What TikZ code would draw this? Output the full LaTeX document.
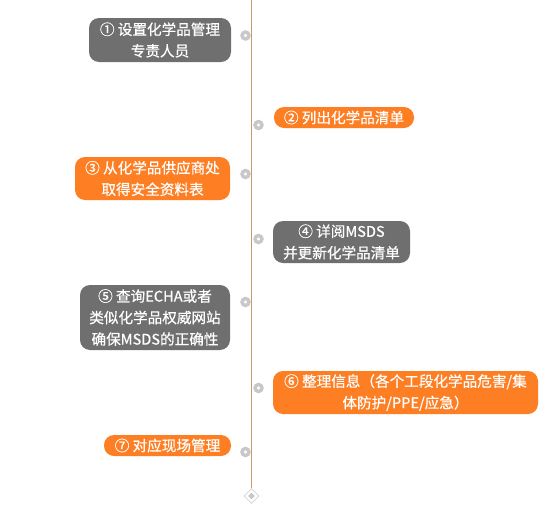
\documentclass[tikz,border=0pt]{standalone}
\usepackage{fontspec}
\usepackage{tikz}
\usetikzlibrary{positioning,shapes.geometric}
\newfontfamily\cjk[FakeBold=0.6]{Noto Sans CJK SC}
\definecolor{FlowGray}{HTML}{6F6F6F}
\definecolor{FlowOrange}{HTML}{FD7E23}
\definecolor{FlowRing}{HTML}{C8C8C8}
\definecolor{FlowLine}{HTML}{CC9A66}

\begin{document}
\begin{tikzpicture}[x=1pt, y=-1pt,
  font=\cjk\fontsize{14.6}{21.5}\selectfont,
  card/.style={rounded corners=10pt, text=white, inner sep=0pt, align=center},
  graycard/.style={card, fill=FlowGray},
  orangecard/.style={card, fill=FlowOrange},
  ring/.style={circle, draw=FlowRing, line width=3.4pt, fill=white, minimum size=7pt, inner sep=0pt}]
  \useasboundingbox (0,0) rectangle (555,517);

  % spine
  \coordinate (top) at (251.5,0);
  \node[diamond, draw=FlowRing!80, fill=white, line width=0.8pt, minimum size=15pt, inner sep=0pt] (endmark) at (251.5,496) {};
  \node[diamond, fill=FlowRing, minimum size=7pt, inner sep=0pt] (endcore) at (endmark) {};
  \draw[FlowLine, line width=0.8pt] (top) -- (endmark.north);

  % steps
  \node[graycard, minimum width=142pt, minimum height=44pt] (setup) at (160,40)
    {① 设置化学品管理\\专责人员};
  \node[orangecard, minimum width=140pt, minimum height=21pt] (list) at (344,117.5)
    {② 列出化学品清单};
  \node[orangecard, minimum width=155pt, minimum height=43pt] (sds) at (152.5,178.5)
    {③ 从化学品供应商处\\取得安全资料表};
  \node[graycard, minimum width=137pt, minimum height=42pt] (review) at (341.5,242)
    {④ 详阅MSDS\\并更新化学品清单};
  \node[graycard, minimum width=150pt, minimum height=65pt] (echa) at (155,317.5)
    {⑤ 查询ECHA或者\\类似化学品权威网站\\确保MSDS的正确性};
  \node[orangecard, minimum width=265pt, minimum height=43pt] (sort) at (405.5,392.5)
    {⑥ 整理信息（各个工段化学品危害/集\\体防护/PPE/应急）};
  \node[orangecard, minimum width=127pt, minimum height=21pt] (site) at (167.5,445.5)
    {⑦ 对应现场管理};

  % markers on the spine
  \node[ring] (m1) at (245.5,35.5) {};
  \node[ring] (m2) at (258.5,125) {};
  \node[ring] (m3) at (245.5,174) {};
  \node[ring] (m4) at (258.5,239) {};
  \node[ring] (m5) at (245.5,302) {};
  \node[ring] (m6) at (258.5,388) {};
  \node[ring] (m7) at (245.5,452) {};
\end{tikzpicture}
\end{document}
